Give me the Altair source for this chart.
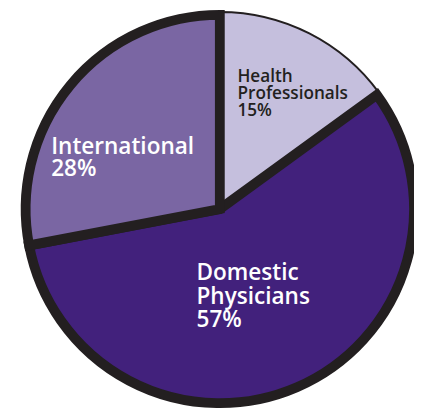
import math
import altair as alt
import pandas as pd

categories = ["Health Professionals", "Domestic Physicians", "International"]
shares = [15, 57, 28]
label_texts = ["Health\nProfessionals\n15%", "Domestic\nPhysicians\n57%", "International\n28%"]
fill_colors = ["#c5bfdd", "#42217c", "#7a66a3"]
edge_color = "#231f20"

df = pd.DataFrame({
    "category": categories,
    "share": shares,
    "label": label_texts,
    "idx": list(range(len(categories))),
})

CX, CY = 216, 201
theta_scale = alt.Scale(domain=[0, 100], range=[0, 2 * math.pi])
color = alt.Color("category:N", scale=alt.Scale(domain=categories, range=fill_colors), legend=None)

base = alt.Chart(df).transform_window(
    cum="sum(share)", sort=[alt.SortField("idx")]
).transform_calculate(
    start="datum.cum - datum.share", mid="datum.cum - datum.share / 2"
)

# thin-edged layer (shows the light slice with a fine outline)
arc_thin = base.mark_arc(outerRadius=201, stroke=edge_color, strokeWidth=2).encode(
    theta=alt.Theta("start:Q", scale=theta_scale, stack=False),
    theta2="cum:Q",
    color=color,
    x=alt.value(CX), y=alt.value(CY),
)

# thick-edged layer for the other slices
arc_thick = base.mark_arc(outerRadius=198, stroke=edge_color, strokeWidth=10).encode(
    theta=alt.Theta("start:Q", scale=theta_scale, stack=False),
    theta2="cum:Q",
    color=color,
    opacity=alt.condition(alt.datum.category == "Health Professionals", alt.value(0), alt.value(1)),
    x=alt.value(CX), y=alt.value(CY),
)

def label_layer(cat, radius, dx, dy, size, lh, col):
    return base.transform_filter(alt.datum.category == cat).mark_text(
        align="left", baseline="alphabetic", font="Open Sans", fontWeight=600,
        fontSize=size, lineHeight=lh, lineBreak="\n", dx=dx, dy=dy, fill=col,
    ).encode(
        theta=alt.Theta("mid:Q", scale=theta_scale, stack=False),
        radius=alt.value(radius),
        text="label:N",
        x=alt.value(CX), y=alt.value(CY),
    )

labels = [
    label_layer("Health Professionals", 120, -36.5, -23, 17.5, 17.5, edge_color),
    label_layer("Domestic Physicians", 100, -63.5, -19, 23, 24, "white"),
    label_layer("International", 120, -79.5, 20.5, 23, 22.5, "white"),
]

chart = alt.layer(arc_thin, arc_thick, *labels).properties(
    width=414, height=406, padding=0,
    autosize=alt.AutoSizeParams(type="none"),
).configure_view(stroke=None)

chart.save("out.html", embed_options={"renderer": "svg", "actions": False})
